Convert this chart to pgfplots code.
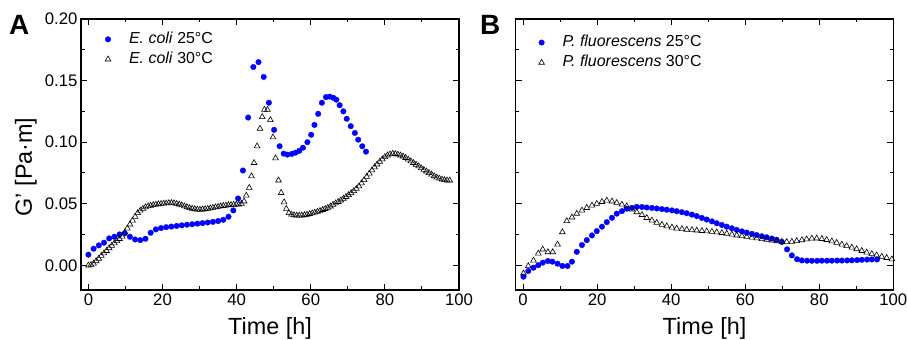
\documentclass[border=0pt]{standalone}
\usepackage{pgfplots}
\usepackage{pgfplotstable}
\pgfplotsset{compat=1.18}
\usepackage{fontspec}
\setmainfont{Liberation Sans}

\pgfplotstableread{
x y
0.0 0.0087
1.4 0.0135
2.8 0.0162
4.2 0.0184
5.6 0.0219
7.0 0.0232
8.4 0.0251
9.8 0.0260
11.2 0.0232
12.6 0.0210
14.0 0.0205
15.4 0.0216
16.8 0.0265
18.2 0.0292
19.6 0.0303
21.0 0.0310
22.4 0.0315
23.8 0.0320
25.2 0.0325
26.6 0.0330
28.0 0.0334
29.4 0.0339
30.8 0.0343
32.2 0.0348
33.6 0.0353
35.0 0.0360
36.4 0.0370
37.8 0.0395
39.1 0.0446
40.4 0.0543
41.7 0.0770
43.1 0.1200
44.5 0.1610
45.9 0.1650
47.3 0.1530
48.7 0.1320
50.1 0.1100
51.6 0.0967
52.7 0.0907
53.7 0.0899
54.9 0.0905
55.9 0.0915
56.9 0.0930
57.9 0.0955
59.1 0.1000
60.1 0.1060
61.0 0.1140
62.0 0.1230
63.0 0.1320
64.1 0.1366
65.1 0.1370
66.1 0.1360
66.9 0.1345
67.8 0.1300
68.8 0.1250
69.7 0.1190
70.8 0.1130
71.9 0.1075
72.8 0.1020
73.9 0.0967
74.9 0.0923
}\ecolitwentyfive

\pgfplotstableread{
x y
0.0 0.0000
0.7 0.0005
1.4 0.0015
2.1 0.0035
2.8 0.0055
3.5 0.0078
4.2 0.0098
4.9 0.0118
5.6 0.0140
6.3 0.0160
7.0 0.0180
7.7 0.0198
8.4 0.0215
9.1 0.0235
9.8 0.0268
10.5 0.0300
11.2 0.0333
11.9 0.0365
12.6 0.0395
13.3 0.0425
14.0 0.0445
14.7 0.0460
15.4 0.0472
16.1 0.0480
16.8 0.0485
17.5 0.0490
18.2 0.0494
18.9 0.0497
19.6 0.0500
20.3 0.0502
21.0 0.0504
21.7 0.0506
22.4 0.0507
23.1 0.0505
23.8 0.0500
24.5 0.0495
25.2 0.0488
25.9 0.0480
26.6 0.0473
27.3 0.0466
28.0 0.0461
28.7 0.0457
29.4 0.0454
30.1 0.0453
30.8 0.0455
31.5 0.0457
32.2 0.0460
32.9 0.0464
33.6 0.0468
34.3 0.0472
35.0 0.0476
35.7 0.0480
36.4 0.0483
37.1 0.0486
37.8 0.0489
38.5 0.0491
39.2 0.0493
39.9 0.0494
40.6 0.0495
41.3 0.0500
42.0 0.0520
42.6 0.0567
43.4 0.0630
44.0 0.0724
44.7 0.0832
45.5 0.0967
46.3 0.1110
46.9 0.1205
47.5 0.1264
48.3 0.1264
49.1 0.1180
49.8 0.1040
50.5 0.0870
51.3 0.0690
52.0 0.0589
52.8 0.0513
53.4 0.0460
54.1 0.0425
54.8 0.0413
55.5 0.0408
56.2 0.0405
56.9 0.0405
57.6 0.0406
58.3 0.0408
59.0 0.0412
59.7 0.0418
60.4 0.0423
61.1 0.0429
61.8 0.0436
62.5 0.0443
63.2 0.0451
63.9 0.0459
64.6 0.0468
65.3 0.0479
66.0 0.0492
66.7 0.0504
67.4 0.0516
68.1 0.0528
68.8 0.0542
69.5 0.0556
70.2 0.0571
70.9 0.0587
71.6 0.0604
72.3 0.0622
73.0 0.0642
73.7 0.0667
74.4 0.0693
75.1 0.0720
75.8 0.0746
76.5 0.0772
77.2 0.0797
77.9 0.0820
78.6 0.0842
79.3 0.0862
80.0 0.0880
80.7 0.0893
81.4 0.0902
82.1 0.0907
82.8 0.0905
83.5 0.0900
84.2 0.0893
84.9 0.0885
85.6 0.0873
86.3 0.0860
87.0 0.0846
87.7 0.0832
88.4 0.0818
89.1 0.0805
89.8 0.0790
90.5 0.0776
91.2 0.0763
91.9 0.0750
92.6 0.0738
93.3 0.0725
94.0 0.0714
94.7 0.0705
95.4 0.0698
96.1 0.0693
96.8 0.0690
97.5 0.0690
}\ecolithirty

\pgfplotstableread{
x y
0.1 -0.0092
1.4 -0.0046
2.8 -0.0019
4.1 0.0002
5.3 0.0022
6.7 0.0035
7.9 0.0030
9.3 0.0014
10.6 -0.0005
12.0 -0.0005
13.2 0.0030
14.5 0.0110
15.9 0.0165
17.2 0.0205
18.6 0.0243
19.9 0.0278
21.3 0.0314
22.6 0.0351
24.0 0.0386
25.3 0.0420
26.7 0.0440
28.0 0.0460
29.4 0.0467
30.7 0.0475
32.1 0.0474
33.4 0.0470
34.8 0.0466
36.1 0.0462
37.5 0.0457
38.8 0.0452
40.2 0.0446
41.5 0.0440
42.9 0.0432
44.2 0.0423
45.6 0.0412
46.9 0.0400
48.3 0.0385
49.6 0.0372
51.0 0.0357
52.3 0.0342
53.7 0.0328
55.0 0.0314
56.4 0.0301
57.7 0.0288
59.1 0.0276
60.4 0.0266
61.8 0.0256
63.1 0.0246
64.5 0.0236
65.8 0.0228
67.2 0.0218
68.5 0.0208
69.9 0.0190
71.3 0.0130
72.6 0.0081
74.0 0.0050
75.3 0.0040
76.7 0.0038
78.0 0.0037
79.4 0.0037
80.7 0.0038
82.1 0.0038
83.4 0.0038
84.8 0.0039
86.1 0.0039
87.5 0.0040
88.8 0.0041
90.2 0.0043
91.5 0.0045
92.9 0.0047
94.2 0.0048
95.6 0.0048
}\pfluotwentyfive

\pgfplotstableread{
x y
0.1 -0.0065
1.4 -0.0005
2.8 0.0040
4.1 0.0097
5.3 0.0130
6.7 0.0108
8.0 0.0108
9.3 0.0170
10.6 0.0270
11.8 0.0360
13.2 0.0390
14.5 0.0420
15.9 0.0446
17.2 0.0467
18.6 0.0486
19.9 0.0500
21.3 0.0516
22.6 0.0527
24.0 0.0520
25.3 0.0508
26.7 0.0494
28.0 0.0480
29.4 0.0454
30.7 0.0432
32.1 0.0410
33.4 0.0386
34.8 0.0365
36.1 0.0346
37.5 0.0330
38.8 0.0318
40.2 0.0308
41.5 0.0300
42.9 0.0295
44.2 0.0290
45.6 0.0287
46.9 0.0284
48.3 0.0280
49.6 0.0277
51.0 0.0273
52.3 0.0269
53.7 0.0264
55.0 0.0258
56.4 0.0251
57.7 0.0244
59.1 0.0238
60.4 0.0232
61.8 0.0226
63.1 0.0220
64.5 0.0214
65.8 0.0209
67.2 0.0203
68.5 0.0197
69.9 0.0192
71.2 0.0190
72.6 0.0192
73.9 0.0198
75.3 0.0205
76.6 0.0212
78.0 0.0218
79.3 0.0219
80.7 0.0215
82.0 0.0207
83.4 0.0196
84.7 0.0184
86.1 0.0170
87.4 0.0157
88.8 0.0145
90.1 0.0132
91.5 0.0118
92.8 0.0105
94.2 0.0093
95.5 0.0082
96.9 0.0071
98.2 0.0061
99.6 0.0050
}\pfluothirty

\newcommand\labfont{\fontsize{23.5}{26}\selectfont}
\pgfplotsset{
  panel/.style={
    scale only axis, height=271bp,
    xmin=-2, xmax=100, ymin=-0.02, ymax=0.2,
    xtick={0,20,40,60,80,100}, minor xtick={10,30,50,70,90},
    ytick={0,0.05,0.1,0.15,0.2}, minor ytick={0.025,0.075,0.125,0.175},
    tick align=inside, major tick length=6bp, minor tick length=3.5bp,
    axis line style={line width=1.2bp},
    every tick/.style={line width=1bp, black},
    tick label style={font=\fontsize{16.8}{18}\selectfont},
    /pgf/number format/assume math mode=true,
    scaled y ticks=false,
    y tick label style={/pgf/number format/fixed, /pgf/number format/fixed zerofill, /pgf/number format/precision=2},
    xlabel={\labfont Time [h]},
    every axis x label/.style={at={(axis description cs:0.5,-0.166)}, anchor=base},
    every axis y label/.style={at={(axis description cs:-0.130,0.454)}, anchor=base, rotate=90},
    legend cell align=left,
    legend image code/.code={\path[draw=none, fill=none] (-4bp,-2bp) rectangle (19bp,2bp); \draw[#1] plot coordinates {(0bp,0bp)};},
    legend style={draw=none, fill=none, inner sep=0bp, outer sep=0bp, anchor=north west,
      font=\fontsize{16}{19}\selectfont, row sep=1bp,
      nodes={inner sep=2bp, text height=11.5bp, text depth=3.5bp}},
  },
  dots/.style={only marks, mark=*, blue, mark size=2.8bp, mark options={draw=blue, fill=blue, line width=0.3bp}},
  tris/.style={only marks, mark=triangle, black, mark size=3.3bp, mark options={line width=0.6bp}},
}

\begin{document}
\begin{tikzpicture}
\begin{axis}[panel, width=378bp, at={(81bp,50bp)}, anchor=south west,
  ylabel={\labfont G' [Pa·m]},
  legend style={at={(axis description cs:0.061,0.960)}}]
\addplot[dots] table {\ecolitwentyfive};
\addlegendentry{\textit{E. coli} 25°C}
\addplot[tris] table {\ecolithirty};
\addlegendentry{\textit{E. coli} 30°C}
\end{axis}
\begin{axis}[panel, width=377.6bp, at={(515.7bp,50bp)}, anchor=south west,
  yticklabels={},
  legend style={at={(axis description cs:0.058,0.948)}}]
\addplot[dots] table {\pfluotwentyfive};
\addlegendentry{\textit{P. fluorescens} 25°C}
\addplot[tris] table {\pfluothirty};
\addlegendentry{\textit{P. fluorescens} 30°C}
\end{axis}
\node[anchor=base west, inner sep=0pt, font=\bfseries\fontsize{28}{30}\selectfont] at (9bp,305bp) {A};
\node[anchor=base west, inner sep=0pt, font=\bfseries\fontsize{28}{30}\selectfont] at (480bp,305bp) {B};
\pgfresetboundingbox
\path[use as bounding box] (0,0) rectangle (907bp,340bp);
\end{tikzpicture}
\end{document}
